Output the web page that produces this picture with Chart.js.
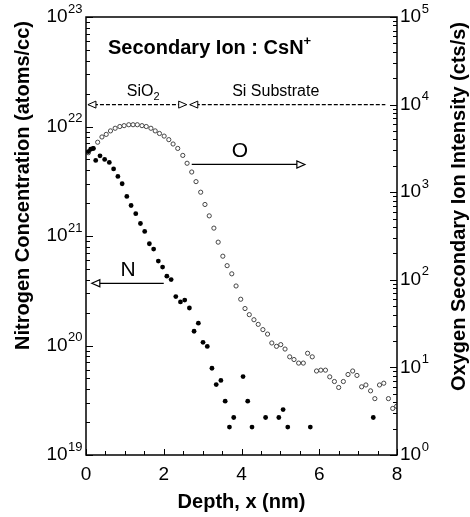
<!DOCTYPE html>
<html lang="en">
<head>
<meta charset="UTF-8" />
<title>SIMS depth profile – N / O</title>
<script src="https://cdn.jsdelivr.net/npm/chart.js"></script>
<style>
  * { box-sizing: border-box; }
  html, body { margin: 0; padding: 0; background: #fff; }
  #wrap { position: relative; width: 470px; height: 517px; }
</style>
</head>
<body>
<div id="wrap"><canvas id="sims"></canvas></div>
<script>
// nitrogen profile, left axis (atoms/cc)
const nDepth = [0.06, 0.12, 0.19, 0.25, 0.36, 0.48, 0.60, 0.71, 0.82, 0.93,
  1.05, 1.16, 1.28, 1.40, 1.51, 1.63, 1.74, 1.86, 1.97, 2.08,
  2.19, 2.31, 2.43, 2.54, 2.66, 2.78, 2.89, 3.01, 3.12, 3.24,
  3.35, 3.47, 3.58, 3.69, 3.80, 4.04, 4.16, 4.27, 4.62, 4.96,
  5.07, 5.19, 5.77, 7.39];
const nConc = [5.9e21, 6.2e21, 6.3e21, 4.9e21, 5.4e21, 5.0e21, 4.7e21, 4.1e21, 3.5e21, 3.0e21,
  2.3e21, 1.9e21, 1.6e21, 1.3e21, 1.1e21, 8.5e20, 7.6e20, 5.9e20, 5.2e20, 4.3e20,
  4.0e20, 2.8e20, 2.5e20, 2.6e20, 2.2e20, 1.35e20, 1.6e20, 1.07e20, 9.8e19, 6.2e19,
  4.4e19, 4.8e19, 3.1e19, 1.8e19, 2.2e19, 5.2e19, 3.1e19, 1.8e19, 2.2e19, 2.2e19,
  2.6e19, 1.8e19, 1.8e19, 2.2e19];

// oxygen secondary ion intensity, right axis (cts/s)
const oDepth = [0.06, 0.18, 0.30, 0.41, 0.52, 0.63, 0.75, 0.87, 0.98, 1.10,
  1.21, 1.32, 1.44, 1.55, 1.67, 1.78, 1.89, 2.01, 2.13, 2.24,
  2.36, 2.49, 2.60, 2.72, 2.83, 2.95, 3.06, 3.17, 3.29, 3.40,
  3.52, 3.63, 3.75, 3.86, 3.98, 4.09, 4.20, 4.32, 4.43, 4.55,
  4.67, 4.78, 4.90, 5.01, 5.12, 5.24, 5.35, 5.47, 5.59, 5.70,
  5.82, 5.93, 6.04, 6.16, 6.27, 6.39, 6.50, 6.62, 6.74, 6.86,
  6.97, 7.09, 7.20, 7.32, 7.43, 7.55, 7.66, 7.78, 7.89, 7.99];
const oCounts = [2820, 3160, 3720, 4270, 4570, 5010, 5370, 5620, 5750, 5890,
  5890, 5890, 5750, 5620, 5370, 5010, 4680, 4370, 3980, 3550,
  3160, 2630, 2140, 1700, 1320, 1000, 724, 537, 389, 269,
  186, 145, 117, 85, 60, 47, 40, 35, 31, 27,
  24, 19, 17.4, 18.2, 16.2, 13.2, 12.3, 11.2, 11.2, 14.5,
  13.2, 9.1, 9.3, 9.3, 7.8, 6.9, 5.9, 6.9, 8.3, 9.1,
  8.1, 6.0, 6.3, 5.4, 4.4, 6.3, 6.6, 4.4, 3.4, 3.6];

const xTickLabels = [0, 2, 4, 6, 8];
const leftExponents = [19, 20, 21, 22, 23];
const rightExponents = [0, 1, 2, 3, 4, 5];

const FONT = "'Liberation Sans', Arial, Helvetica, sans-serif";

function toPoints(xs, ys) {
  return xs.map((x, i) => ({ x: x, y: ys[i] }));
}

// "10" with a raised exponent
function powerLabel(ctx, exp, x, y, align) {
  ctx.font = `19px ${FONT}`;
  const bw = ctx.measureText('10').width;
  ctx.font = `13px ${FONT}`;
  const ew = ctx.measureText(String(exp)).width;
  const x0 = align === 'right' ? x - bw - ew : x;
  ctx.textAlign = 'left';
  ctx.textBaseline = 'middle';
  ctx.font = `19px ${FONT}`;
  ctx.fillText('10', x0, y);
  ctx.font = `13px ${FONT}`;
  ctx.fillText(String(exp), x0 + bw + 0.5, y - 8);
}

// open triangle arrow head, tip at (x, y), pointing dir (+1 right, -1 left)
function arrowHead(ctx, x, y, dir) {
  const len = 8, half = 3.5;
  ctx.beginPath();
  ctx.moveTo(x, y);
  ctx.lineTo(x - dir * len, y - half);
  ctx.lineTo(x - dir * len, y + half);
  ctx.closePath();
  ctx.fillStyle = '#fff';
  ctx.fill();
  ctx.setLineDash([]);
  ctx.stroke();
}

const framePlugin = {
  id: 'frame',
  afterDraw(chart) {
    const ctx = chart.ctx;
    const { left, right, top, bottom } = chart.chartArea;
    const sx = chart.scales.x, sy = chart.scales.y, sy2 = chart.scales.y2;
    ctx.save();
    ctx.strokeStyle = '#000';
    ctx.fillStyle = '#000';

    // box
    ctx.lineWidth = 1.5;
    ctx.strokeRect(left, top, right - left, bottom - top);

    // inward tick marks
    ctx.lineWidth = 1;
    ctx.beginPath();
    for (let v = 0; v <= 8.001; v += 0.5) {
      const px = Math.round(sx.getPixelForValue(v)) + 0.5;
      const len = (Math.abs(v % 2) < 1e-6) ? 6 : 4;
      ctx.moveTo(px, bottom);
      ctx.lineTo(px, bottom - len);
    }
    const logTicks = (scale, lo, hi, x0, dir) => {
      for (let e = lo; e <= hi; e++) {
        for (let k = 1; k <= 9; k++) {
          if (e === hi && k > 1) break;
          const py = Math.round(scale.getPixelForValue(k * Math.pow(10, e))) + 0.5;
          const len = k === 1 ? 7 : 4;
          ctx.moveTo(x0, py);
          ctx.lineTo(x0 + dir * len, py);
        }
      }
    };
    logTicks(sy, leftExponents[0], leftExponents[leftExponents.length - 1], left, 1);
    logTicks(sy2, rightExponents[0], rightExponents[rightExponents.length - 1], right, -1);
    ctx.stroke();

    // tick labels
    ctx.fillStyle = '#000';
    ctx.font = `19px ${FONT}`;
    ctx.textAlign = 'center';
    ctx.textBaseline = 'middle';
    xTickLabels.forEach(v => ctx.fillText(String(v), sx.getPixelForValue(v), bottom + 20));
    leftExponents.forEach(e => powerLabel(ctx, e, left - 4, sy.getPixelForValue(Math.pow(10, e)), 'right'));
    rightExponents.forEach(e => powerLabel(ctx, e, right + 3, sy2.getPixelForValue(Math.pow(10, e)), 'left'));

    // axis titles
    ctx.font = `bold 20px ${FONT}`;
    ctx.textAlign = 'center';
    ctx.fillText('Depth, x (nm)', (left + right) / 2, bottom + 47);
    ctx.textAlign = 'right';
    ctx.save();
    ctx.translate(23, top + 4);
    ctx.rotate(-Math.PI / 2);
    ctx.fillText('Nitrogen Concentration (atoms/cc)', 0, 0);
    ctx.restore();
    ctx.save();
    ctx.translate(459, top + 5);
    ctx.rotate(-Math.PI / 2);
    ctx.fillText('Oxygen Secondary Ion Intensity (cts/s)', 0, 0);
    ctx.restore();

    // heading inside the plot
    ctx.textAlign = 'left';
    ctx.font = `bold 20px ${FONT}`;
    const head = 'Secondary Ion : CsN';
    ctx.fillText(head, left + 22, top + 31);
    const hw = ctx.measureText(head).width;
    ctx.font = `bold 13px ${FONT}`;
    ctx.fillText('+', left + 22 + hw, top + 24);

    // SiO2 / Si substrate boundary
    const yb = sy2.getPixelForValue(1e4);
    ctx.lineWidth = 1.3;
    ctx.setLineDash([4, 2]);
    ctx.beginPath();
    ctx.moveTo(sx.getPixelForValue(0.05), yb);
    ctx.lineTo(sx.getPixelForValue(2.59), yb);
    ctx.moveTo(sx.getPixelForValue(2.67), yb);
    ctx.lineTo(sx.getPixelForValue(7.7), yb);
    ctx.stroke();
    ctx.lineWidth = 1;
    arrowHead(ctx, sx.getPixelForValue(0.05), yb, -1);
    arrowHead(ctx, sx.getPixelForValue(2.59), yb, 1);
    arrowHead(ctx, sx.getPixelForValue(2.67), yb, -1);

    ctx.fillStyle = '#000';
    ctx.font = `16px ${FONT}`;
    ctx.textAlign = 'left';
    ctx.textBaseline = 'middle';
    const sxo = sx.getPixelForValue(1.05);
    ctx.fillText('SiO', sxo, yb - 13);
    const sw = ctx.measureText('SiO').width;
    ctx.font = `11px ${FONT}`;
    ctx.fillText('2', sxo + sw, yb - 8);
    ctx.font = `16px ${FONT}`;
    ctx.fillText('Si Substrate', sx.getPixelForValue(3.76), yb - 13);

    // O arrow -> right axis
    const yo = sy.getPixelForValue(4.5e21);
    ctx.lineWidth = 1.2;
    ctx.beginPath();
    ctx.moveTo(sx.getPixelForValue(2.72), yo);
    ctx.lineTo(sx.getPixelForValue(5.55), yo);
    ctx.stroke();
    arrowHead(ctx, sx.getPixelForValue(5.63), yo, 1);
    ctx.fillStyle = '#000';
    ctx.font = `21px ${FONT}`;
    ctx.textAlign = 'center';
    ctx.fillText('O', sx.getPixelForValue(3.96), yo - 13);

    // N arrow -> left axis
    const yn = sy.getPixelForValue(3.7e20);
    ctx.beginPath();
    ctx.moveTo(sx.getPixelForValue(0.3), yn);
    ctx.lineTo(sx.getPixelForValue(2.0), yn);
    ctx.stroke();
    arrowHead(ctx, sx.getPixelForValue(0.15), yn, -1);
    ctx.fillStyle = '#000';
    ctx.fillText('N', sx.getPixelForValue(1.08), yn - 13);

    ctx.restore();
  }
};

new Chart(document.getElementById('sims'), {
  type: 'scatter',
  data: {
    datasets: [
      {
        label: 'N',
        data: toPoints(nDepth, nConc),
        yAxisID: 'y',
        pointRadius: 2.4,
        pointBackgroundColor: '#000',
        pointBorderColor: '#000',
        pointBorderWidth: 0
      },
      {
        label: 'O',
        data: toPoints(oDepth, oCounts),
        yAxisID: 'y2',
        pointRadius: 2.1,
        pointBackgroundColor: '#fff',
        pointBorderColor: '#444',
        pointBorderWidth: 1
      }
    ]
  },
  options: {
    responsive: true,
    maintainAspectRatio: false,
    animation: false,
    layout: { padding: { left: 86, right: 73, top: 17, bottom: 62 } },
    plugins: { legend: { display: false }, tooltip: { enabled: false } },
    scales: {
      x: { type: 'linear', min: 0, max: 8, display: false },
      y: { type: 'logarithmic', position: 'left', min: 1e19, max: 1e23, display: false },
      y2: { type: 'logarithmic', position: 'right', min: 1, max: 1e5, display: false }
    }
  },
  plugins: [framePlugin]
});
</script>
</body>
</html>
